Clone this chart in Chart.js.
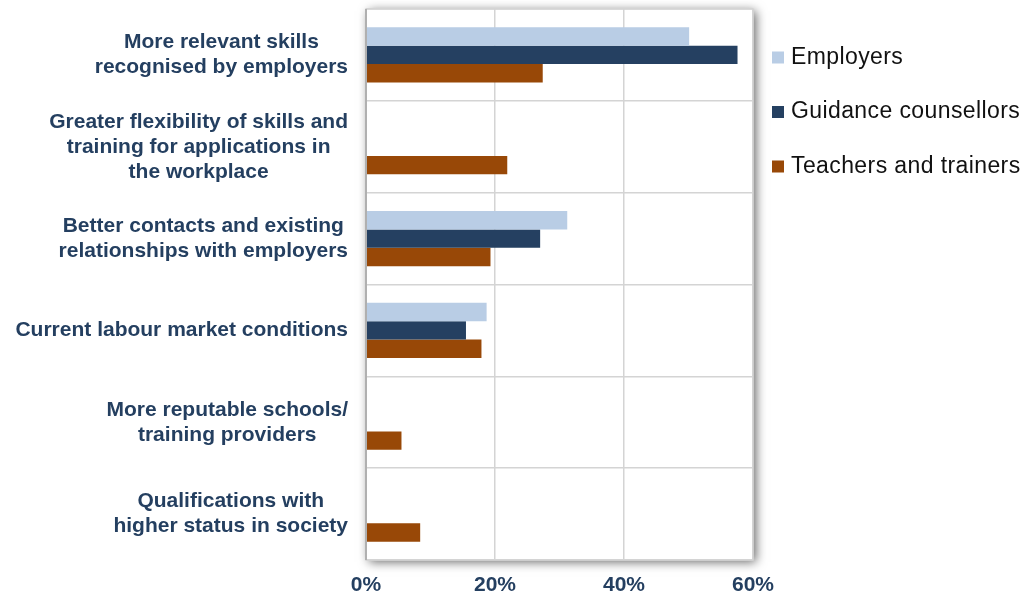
<!DOCTYPE html>
<html>
<head>
<meta charset="utf-8">
<style>
  html, body { margin: 0; padding: 0; background: #fff; }
  #wrap { width: 1029px; height: 598px; position: relative; }
</style>
<script src="https://cdn.jsdelivr.net/npm/chart.js@4.4.0/dist/chart.umd.min.js"></script>
</head>
<body>
<div id="wrap"><canvas id="chart"></canvas></div>
<script>
// categories (drawn as multi-line labels, top to bottom)
var categories = [
  ['More relevant skills', 'recognised by employers'],
  ['Greater flexibility of skills and', 'training for applications in', 'the workplace'],
  ['Better contacts and existing', 'relationships with employers'],
  ['Current labour market conditions'],
  ['More reputable schools/', 'training providers'],
  ['Qualifications with', 'higher status in society']
];
var seriesNames = ['Employers', 'Guidance counsellors', 'Teachers and trainers'];
var employers = [50.1, 0, 31.2, 18.7, 0, 0];
var guidance = [57.6, 0, 27.0, 15.5, 0, 0];
var teachers = [27.4, 21.9, 19.3, 17.9, 5.5, 8.4];
var xTicks = [0, 20, 40, 60];

var colors = ['#b9cde5', '#254061', '#984807'];
var labelColor = '#243f60';
var fontFamily = '"Liberation Sans", Arial, sans-serif';

(function () {
  'use strict';

  // plot area with drop shadow + border
  var plotFrame = {
    id: 'plotFrame',
    beforeDraw: function (chart) {
      var a = chart.chartArea, ctx = chart.ctx;
      ctx.save();
      ctx.shadowColor = 'rgba(0,0,0,0.6)';
      ctx.shadowBlur = 10;
      ctx.shadowOffsetX = 3;
      ctx.shadowOffsetY = 2;
      ctx.fillStyle = '#fff';
      ctx.fillRect(a.left, a.top, a.right - a.left, a.bottom - a.top);
      ctx.restore();
    },
    afterDraw: function (chart) {
      var a = chart.chartArea, ctx = chart.ctx;
      ctx.save();
      ctx.strokeStyle = '#d4d4d4';
      ctx.lineWidth = 1.5;
      ctx.strokeRect(a.left, a.top, a.right - a.left, a.bottom - a.top);
      ctx.strokeStyle = '#b0b0b0';
      ctx.lineWidth = 2;
      ctx.beginPath();
      ctx.moveTo(a.left, a.top);
      ctx.lineTo(a.left, a.bottom);
      ctx.stroke();
      ctx.restore();
    }
  };

  // category labels: block right-aligned, lines centred inside it
  var catLabels = {
    id: 'catLabels',
    afterDraw: function (chart) {
      var ctx = chart.ctx, y = chart.scales.y;
      var right = chart.chartArea.left - 18;
      var lh = 25;
      ctx.save();
      ctx.font = 'bold 21px ' + fontFamily;
      ctx.fillStyle = labelColor;
      ctx.textAlign = 'center';
      ctx.textBaseline = 'middle';
      categories.forEach(function (lines, i) {
        var w = 0;
        lines.forEach(function (l) { w = Math.max(w, ctx.measureText(l).width); });
        var cx = right - w / 2;
        var cy = y.getPixelForTick(i);
        var top = cy - (lines.length - 1) * lh / 2;
        lines.forEach(function (l, k) { ctx.fillText(l, cx, top + k * lh); });
      });
      ctx.restore();
    }
  };

  // legend at the right
  var sideLegend = {
    id: 'sideLegend',
    afterDraw: function (chart) {
      var ctx = chart.ctx;
      var x = chart.chartArea.right + 19;
      var y0 = 57.5, step = 54.5;
      ctx.save();
      ctx.font = '23px ' + fontFamily;
      if ('letterSpacing' in ctx) ctx.letterSpacing = '0.4px';
      ctx.textBaseline = 'middle';
      ctx.textAlign = 'left';
      chart.data.datasets.forEach(function (ds, i) {
        var cy = y0 + i * step;
        ctx.fillStyle = ds.backgroundColor;
        ctx.fillRect(x, cy - 6, 12, 12);
        ctx.fillStyle = '#111';
        ctx.fillText(ds.label, x + 19, cy);
      });
      ctx.restore();
    }
  };

  function init() {
    var ctx = document.getElementById('chart');
    var data = [employers, guidance, teachers];
    new Chart(ctx, {
      type: 'bar',
      data: {
        labels: categories.map(function (c) { return c.join(' '); }),
        datasets: seriesNames.map(function (name, i) {
          return {
            label: name,
            data: data[i],
            backgroundColor: colors[i],
            borderWidth: 0,
            categoryPercentage: 0.6,
            barPercentage: 1.0
          };
        })
      },
      options: {
        indexAxis: 'y',
        responsive: true,
        maintainAspectRatio: false,
        animation: false,
        layout: { padding: { top: 9, right: 276, left: 0, bottom: 0 } },
        plugins: {
          legend: { display: false },
          tooltip: { enabled: false }
        },
        scales: {
          x: {
            min: 0,
            max: 60,
            afterBuildTicks: function (s) {
              s.ticks = xTicks.map(function (v) { return { value: v }; });
            },
            afterFit: function (s) { s.height = 38; },
            grid: { color: '#d4d4d4', lineWidth: 1.5, drawTicks: false },
            border: { display: false },
            ticks: {
              padding: 13,
              color: labelColor,
              font: { family: fontFamily, size: 21, weight: 'bold' },
              callback: function (v) { return v + '%'; }
            }
          },
          y: {
            afterFit: function (s) { s.width = 366; },
            grid: { color: '#d4d4d4', lineWidth: 1.5, drawTicks: false },
            border: { display: false },
            ticks: { display: false }
          }
        }
      },
      plugins: [plotFrame, catLabels, sideLegend]
    });
  }

  if (document.readyState === 'loading') {
    document.addEventListener('DOMContentLoaded', init);
  } else {
    init();
  }
})();
</script>
</body>
</html>
